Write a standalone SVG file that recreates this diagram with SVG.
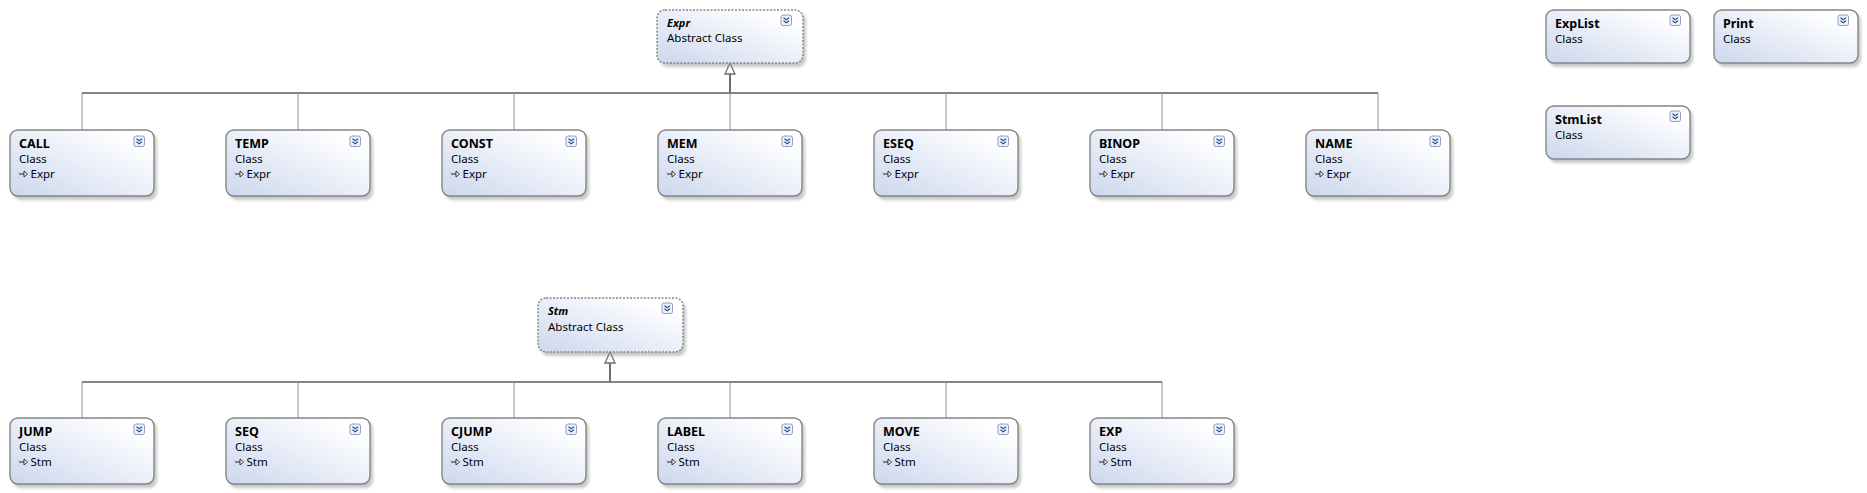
<svg xmlns="http://www.w3.org/2000/svg" width="1867" height="493" viewBox="0 0 1867 493">
<defs>
<linearGradient id="g" x1="0" y1="1" x2="1" y2="0">
<stop offset="0" stop-color="#ccd7ee"/>
<stop offset="0.85" stop-color="#ffffff"/>
</linearGradient>
<filter id="sh" x="-10%" y="-10%" width="130%" height="140%">
<feGaussianBlur stdDeviation="1.5"/>
</filter>
<g id="exp">
<rect x="0" y="0" width="10.5" height="10.5" rx="2" fill="#eef3fb" stroke="#7f93bd" stroke-width="0.9"/>
<path d="M2.5,2.7 L5.25,4.8 L8,2.7 M2.5,5.7 L5.25,7.8 L8,5.7" fill="none" stroke="#2f4f8f" stroke-width="1.2"/>
</g>
<g id="inh">
<path d="M0,0 H5" stroke="#222" stroke-width="1" fill="none"/>
<path d="M5,-3 L8.5,0 L5,3 Z" fill="#fff" stroke="#222" stroke-width="0.9"/>
</g>
</defs>
<style>
text{font-family:"Noto Sans","Open Sans","DejaVu Sans",sans-serif;font-size:11.5px;fill:#000}
.t{font-weight:bold;font-size:12.5px}
.ti{font-weight:bold;font-style:italic;font-size:11px}
.box{fill:url(#g);stroke:#858585;stroke-width:1.4}
.abs{fill:url(#g);stroke:#858585;stroke-width:1.4;stroke-dasharray:2,1.5}
.shd{fill:#9a9a9a;opacity:0.55;filter:url(#sh)}
.c{stroke:#a3a3a3;stroke-width:1.2;fill:none}
.h{stroke:#858580;stroke-width:2;fill:none}
.s{stroke:#6e6e6e;stroke-width:2;fill:none}
.ar{fill:#fff;stroke:#6e6e6e;stroke-width:1.3}
</style>
<rect width="1867" height="493" fill="#fff"/>

<g id="connectors">
<path class="c" d="M82,93 V130 M298,93 V130 M514,93 V130 M730,93 V130 M946,93 V130 M1162,93 V130 M1378,93 V130"/>
<path class="h" d="M82,93 H1378"/>
<path class="s" d="M730,74 V93"/>
<path class="ar" d="M730,63 L725,74 L735,74 Z"/>
<path class="c" d="M82,382 V418 M298,382 V418 M514,382 V418 M730,382 V418 M946,382 V418 M1162,382 V418"/>
<path class="h" d="M82,382 H1162"/>
<path class="s" d="M610,363 V382"/>
<path class="ar" d="M610,352 L605,363 L615,363 Z"/>
</g>

<g id="Expr" transform="translate(657,10)">
<rect class="shd" x="3" y="3" width="146" height="54" rx="8"/>
<rect class="abs" x="0" y="0" width="146" height="53" rx="8"/>
<text class="ti" x="10" y="17">Expr</text>
<text x="10" y="32">Abstract Class</text>
<use href="#exp" x="124" y="5"/>
</g>

<g id="CALL" transform="translate(10,130)">
<rect class="shd" x="3" y="3" width="144" height="67" rx="8"/>
<rect class="box" x="0" y="0" width="144" height="66" rx="8"/>
<text class="t" x="9" y="18">CALL</text>
<text x="9" y="33">Class</text>
<use href="#inh" x="9" y="44"/>
<text x="20.5" y="48">Expr</text>
<use href="#exp" x="124" y="6"/>
</g>
<g id="TEMP" transform="translate(226,130)">
<rect class="shd" x="3" y="3" width="144" height="67" rx="8"/>
<rect class="box" x="0" y="0" width="144" height="66" rx="8"/>
<text class="t" x="9" y="18">TEMP</text>
<text x="9" y="33">Class</text>
<use href="#inh" x="9" y="44"/>
<text x="20.5" y="48">Expr</text>
<use href="#exp" x="124" y="6"/>
</g>
<g id="CONST" transform="translate(442,130)">
<rect class="shd" x="3" y="3" width="144" height="67" rx="8"/>
<rect class="box" x="0" y="0" width="144" height="66" rx="8"/>
<text class="t" x="9" y="18">CONST</text>
<text x="9" y="33">Class</text>
<use href="#inh" x="9" y="44"/>
<text x="20.5" y="48">Expr</text>
<use href="#exp" x="124" y="6"/>
</g>
<g id="MEM" transform="translate(658,130)">
<rect class="shd" x="3" y="3" width="144" height="67" rx="8"/>
<rect class="box" x="0" y="0" width="144" height="66" rx="8"/>
<text class="t" x="9" y="18">MEM</text>
<text x="9" y="33">Class</text>
<use href="#inh" x="9" y="44"/>
<text x="20.5" y="48">Expr</text>
<use href="#exp" x="124" y="6"/>
</g>
<g id="ESEQ" transform="translate(874,130)">
<rect class="shd" x="3" y="3" width="144" height="67" rx="8"/>
<rect class="box" x="0" y="0" width="144" height="66" rx="8"/>
<text class="t" x="9" y="18">ESEQ</text>
<text x="9" y="33">Class</text>
<use href="#inh" x="9" y="44"/>
<text x="20.5" y="48">Expr</text>
<use href="#exp" x="124" y="6"/>
</g>
<g id="BINOP" transform="translate(1090,130)">
<rect class="shd" x="3" y="3" width="144" height="67" rx="8"/>
<rect class="box" x="0" y="0" width="144" height="66" rx="8"/>
<text class="t" x="9" y="18">BINOP</text>
<text x="9" y="33">Class</text>
<use href="#inh" x="9" y="44"/>
<text x="20.5" y="48">Expr</text>
<use href="#exp" x="124" y="6"/>
</g>
<g id="NAME" transform="translate(1306,130)">
<rect class="shd" x="3" y="3" width="144" height="67" rx="8"/>
<rect class="box" x="0" y="0" width="144" height="66" rx="8"/>
<text class="t" x="9" y="18">NAME</text>
<text x="9" y="33">Class</text>
<use href="#inh" x="9" y="44"/>
<text x="20.5" y="48">Expr</text>
<use href="#exp" x="124" y="6"/>
</g>

<g id="ExpList" transform="translate(1546,10)">
<rect class="shd" x="3" y="3" width="144" height="54" rx="8"/>
<rect class="box" x="0" y="0" width="144" height="53" rx="8"/>
<text class="t" x="9" y="18">ExpList</text>
<text x="9" y="33">Class</text>
<use href="#exp" x="124" y="5"/>
</g>
<g id="Print" transform="translate(1714,10)">
<rect class="shd" x="3" y="3" width="144" height="54" rx="8"/>
<rect class="box" x="0" y="0" width="144" height="53" rx="8"/>
<text class="t" x="9" y="18">Print</text>
<text x="9" y="33">Class</text>
<use href="#exp" x="124" y="5"/>
</g>
<g id="StmList" transform="translate(1546,106)">
<rect class="shd" x="3" y="3" width="144" height="54" rx="8"/>
<rect class="box" x="0" y="0" width="144" height="53" rx="8"/>
<text class="t" x="9" y="18">StmList</text>
<text x="9" y="33">Class</text>
<use href="#exp" x="124" y="5"/>
</g>

<g id="Stm" transform="translate(538,298)">
<rect class="shd" x="3" y="3" width="145" height="55" rx="8"/>
<rect class="abs" x="0" y="0" width="145" height="54" rx="8"/>
<text class="ti" x="10" y="17">Stm</text>
<text x="10" y="33">Abstract Class</text>
<use href="#exp" x="124" y="5"/>
</g>

<g id="JUMP" transform="translate(10,418)">
<rect class="shd" x="3" y="3" width="144" height="67" rx="8"/>
<rect class="box" x="0" y="0" width="144" height="66" rx="8"/>
<text class="t" x="9" y="18">JUMP</text>
<text x="9" y="33">Class</text>
<use href="#inh" x="9" y="44"/>
<text x="20.5" y="48">Stm</text>
<use href="#exp" x="124" y="6"/>
</g>
<g id="SEQ" transform="translate(226,418)">
<rect class="shd" x="3" y="3" width="144" height="67" rx="8"/>
<rect class="box" x="0" y="0" width="144" height="66" rx="8"/>
<text class="t" x="9" y="18">SEQ</text>
<text x="9" y="33">Class</text>
<use href="#inh" x="9" y="44"/>
<text x="20.5" y="48">Stm</text>
<use href="#exp" x="124" y="6"/>
</g>
<g id="CJUMP" transform="translate(442,418)">
<rect class="shd" x="3" y="3" width="144" height="67" rx="8"/>
<rect class="box" x="0" y="0" width="144" height="66" rx="8"/>
<text class="t" x="9" y="18">CJUMP</text>
<text x="9" y="33">Class</text>
<use href="#inh" x="9" y="44"/>
<text x="20.5" y="48">Stm</text>
<use href="#exp" x="124" y="6"/>
</g>
<g id="LABEL" transform="translate(658,418)">
<rect class="shd" x="3" y="3" width="144" height="67" rx="8"/>
<rect class="box" x="0" y="0" width="144" height="66" rx="8"/>
<text class="t" x="9" y="18">LABEL</text>
<text x="9" y="33">Class</text>
<use href="#inh" x="9" y="44"/>
<text x="20.5" y="48">Stm</text>
<use href="#exp" x="124" y="6"/>
</g>
<g id="MOVE" transform="translate(874,418)">
<rect class="shd" x="3" y="3" width="144" height="67" rx="8"/>
<rect class="box" x="0" y="0" width="144" height="66" rx="8"/>
<text class="t" x="9" y="18">MOVE</text>
<text x="9" y="33">Class</text>
<use href="#inh" x="9" y="44"/>
<text x="20.5" y="48">Stm</text>
<use href="#exp" x="124" y="6"/>
</g>
<g id="EXP" transform="translate(1090,418)">
<rect class="shd" x="3" y="3" width="144" height="67" rx="8"/>
<rect class="box" x="0" y="0" width="144" height="66" rx="8"/>
<text class="t" x="9" y="18">EXP</text>
<text x="9" y="33">Class</text>
<use href="#inh" x="9" y="44"/>
<text x="20.5" y="48">Stm</text>
<use href="#exp" x="124" y="6"/>
</g>
</svg>
